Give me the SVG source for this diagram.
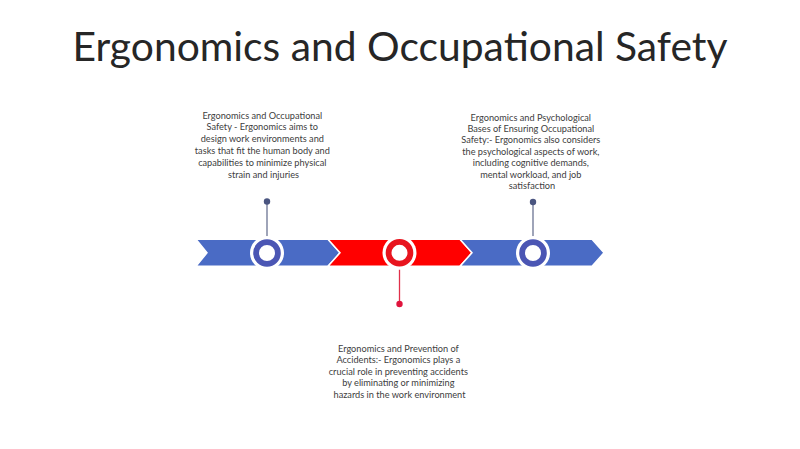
<svg xmlns="http://www.w3.org/2000/svg" width="800" height="449" viewBox="0 0 800 449">
<style>
.title{font-family:Lato,"Open Sans","Liberation Sans",sans-serif;font-size:40px;fill:#262626}
.t{font-family:Lato,"Open Sans","Liberation Sans",sans-serif;font-size:9.2px;fill:#404040;text-anchor:middle}
.blue{fill:#4A6BC5;stroke:#fff;stroke-width:1.5}
.red{fill:#FF0000;stroke:#fff;stroke-width:1.5}
.halo{fill:#fff}
.ringb{fill:#fff;stroke:#4B56B4;stroke-width:5.8}
.ringr{fill:#fff;stroke:#E8141E;stroke-width:5.8}
.pinb{stroke:#6B7393;stroke-width:1.3}
.pinr{stroke:#E0304A;stroke-width:1.3}
</style>
<rect width="800" height="449" fill="#fff"/>
<text class="title" x="400" y="61" text-anchor="middle" textLength="655" lengthAdjust="spacingAndGlyphs">Ergonomics and Occupational Safety</text>

<g id="arrow">
<polygon class="blue" points="196,239.3 328,239.3 340,252.8 328,266.3 196,266.3 207,252.8"/>
<polygon class="red" points="328,239.3 460,239.3 472,252.8 460,266.3 328,266.3 340,252.8"/>
<polygon class="blue" points="460,239.3 592,239.3 604,252.8 592,266.3 460,266.3 472,252.8"/>
</g>

<g id="connectors">
<line class="pinb" x1="267" y1="201.5" x2="267" y2="240"/>
<circle cx="267" cy="201.5" r="3.2" fill="#4A5580"/>
<line class="pinr" x1="399.5" y1="266" x2="399.5" y2="304"/>
<circle cx="399.5" cy="304" r="3.2" fill="#E0143C"/>
<line class="pinb" x1="533" y1="202" x2="533" y2="240"/>
<circle cx="533" cy="202" r="3.2" fill="#4A5580"/>
</g>

<g id="node1">
<circle class="halo" cx="267" cy="253" r="17"/>
<circle class="ringb" cx="267" cy="253" r="10.9"/>
<text class="t">
<tspan x="263.5" y="118.5">Ergonomics and Occupational</tspan>
<tspan x="263.5" y="130.3">Safety - Ergonomics aims to</tspan>
<tspan x="263.5" y="142.1">design work environments and</tspan>
<tspan x="263.5" y="153.9">tasks that fit the human body and</tspan>
<tspan x="263.5" y="165.7">capabilities to minimize physical</tspan>
<tspan x="263.5" y="177.5">strain and injuries</tspan>
</text>
</g>

<g id="node2">
<circle class="halo" cx="399.5" cy="252.8" r="17"/>
<circle class="ringr" cx="399.5" cy="252.8" r="10.9"/>
<text class="t">
<tspan x="399.5" y="351.5">Ergonomics and Prevention of</tspan>
<tspan x="399.5" y="363">Accidents:- Ergonomics plays a</tspan>
<tspan x="399.5" y="374.5">crucial role in preventing accidents</tspan>
<tspan x="399.5" y="386">by eliminating or minimizing</tspan>
<tspan x="399.5" y="397.5">hazards in the work environment</tspan>
</text>
</g>

<g id="node3">
<circle class="halo" cx="533" cy="253" r="17"/>
<circle class="ringb" cx="533" cy="253" r="10.9"/>
<text class="t">
<tspan x="532" y="120.5">Ergonomics and Psychological</tspan>
<tspan x="532" y="131.9">Bases of Ensuring Occupational</tspan>
<tspan x="532" y="143.3">Safety:- Ergonomics also considers</tspan>
<tspan x="532" y="154.7">the psychological aspects of work,</tspan>
<tspan x="532" y="166.1">including cognitive demands,</tspan>
<tspan x="532" y="177.5">mental workload, and job</tspan>
<tspan x="532" y="188.9">satisfaction</tspan>
</text>
</g>
</svg>
